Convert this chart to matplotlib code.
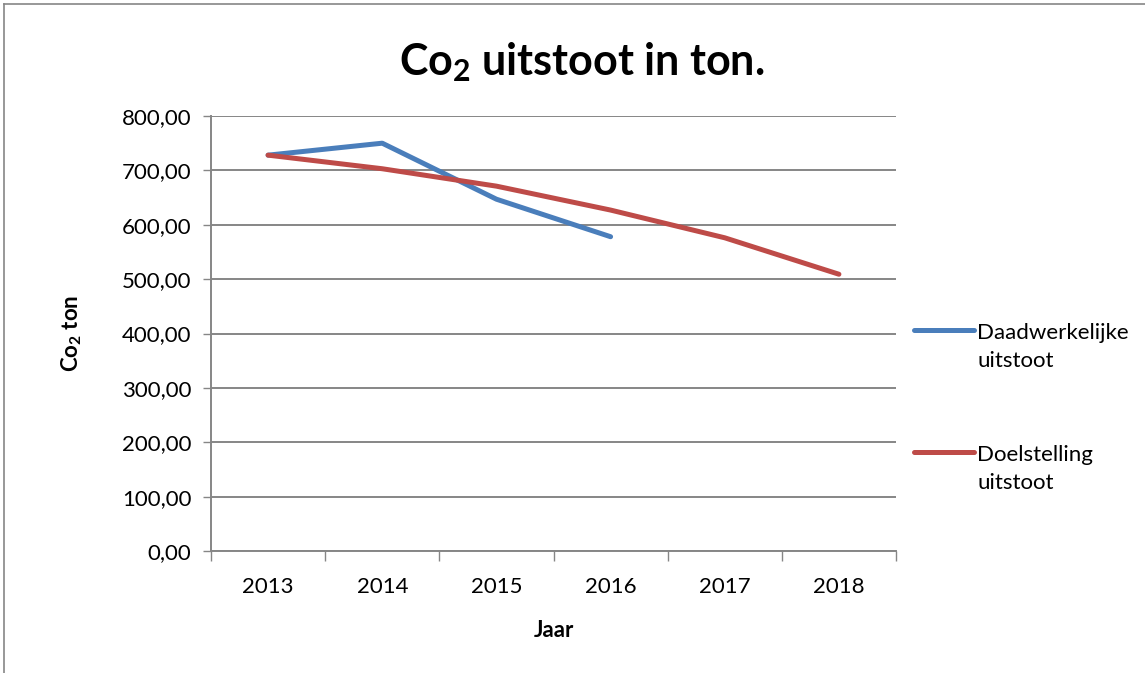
import matplotlib
matplotlib.use("Agg")
import matplotlib.pyplot as plt
from matplotlib.lines import Line2D
from matplotlib.ticker import FuncFormatter
from matplotlib.legend_handler import HandlerLine2D

plt.rcParams['font.family'] = ['Lato', 'DejaVu Sans']
plt.rcParams['mathtext.fontset'] = 'custom'
plt.rcParams['mathtext.rm'] = 'Lato'
plt.rcParams['mathtext.bf'] = 'Lato:bold'
plt.rcParams['mathtext.default'] = 'bf'

years = ["2013", "2014", "2015", "2016", "2017", "2018"]
actual = [728, 750, 647, 578]
target = [728, 703, 671, 627, 576, 509]
series_names = ["Daadwerkelijke\nuitstoot", "Doelstelling\nuitstoot"]
colors = ["#4A7EBB", "#BE4B48"]


class TopHandler(HandlerLine2D):
    def create_artists(self, legend, orig_handle, xdescent, ydescent, width, height, fontsize, trans):
        arts = super().create_artists(legend, orig_handle, xdescent, ydescent, width, height, fontsize, trans)
        for a in arts:
            a.set_ydata([y + 12.5 for y in a.get_ydata()])
        return arts


W, H = 1145, 673
fig = plt.figure(figsize=(W / 100, H / 100), dpi=100)
ax = fig.add_axes([211 / W, 1 - 551 / H, (896 - 211) / W, (551 - 116) / H])

x_act = list(range(len(actual)))
x_tar = list(range(len(target)))
l1, = ax.plot(x_act, actual, color=colors[0], lw=3.6, solid_capstyle='round', solid_joinstyle='round', zorder=3)
l2, = ax.plot(x_tar, target, color=colors[1], lw=3.6, solid_capstyle='round', solid_joinstyle='round', zorder=3)

ax.set_xlim(-0.5, len(years) - 0.5)
ax.set_ylim(0, 800)
ax.set_yticks(range(0, 801, 100))
ax.yaxis.set_major_formatter(FuncFormatter(lambda v, p: f"{v:.2f}".replace('.', ',')))
ax.set_xticks([i - 0.5 for i in range(len(years) + 1)])
ax.set_xticklabels([])
ax.set_xticks(range(len(years)), minor=True)
ax.set_xticklabels(years, minor=True)
ax.tick_params(axis='x', which='major', length=7, width=1, color='#868686', direction='out')
ax.tick_params(axis='x', which='minor', length=0, pad=19, labelsize=16)
ax.tick_params(axis='y', length=6, width=1, color='#868686', labelsize=16, pad=8)

ax.grid(axis='y', color='#868686', lw=1.4, zorder=0)
ax.set_axisbelow(True)
for s in ['top', 'right']:
    ax.spines[s].set_visible(False)
for s in ['left', 'bottom']:
    ax.spines[s].set_color('#868686')
    ax.spines[s].set_linewidth(1.4)

ax.set_xlabel("Jaar", fontsize=16, fontweight='bold', labelpad=16)
ax.set_ylabel("Co$_2$ ton", fontsize=16, fontweight='bold', labelpad=27)
fig.text(582 / W, 1 - 62 / H, "Co$_2$ uitstoot in ton.", fontsize=31, fontweight='bold',
         ha='center', va='center')

leg = fig.legend([l1, l2], series_names, loc='upper left', bbox_to_anchor=(905 / W, 1 - 314 / H),
                 frameon=False, fontsize=16, handlelength=2.7, handletextpad=0.15,
                 labelspacing=3.35, borderaxespad=0,
                 handler_map={Line2D: TopHandler()})
for t in leg.get_texts():
    t.set_linespacing(1.5)

# outer chart border (top and left visible)
fig.add_artist(Line2D([4 / W, 4 / W], [0, 1 - 4 / H], transform=fig.transFigure, color='#868686', lw=1.2))
fig.add_artist(Line2D([4 / W, 1], [1 - 4 / H, 1 - 4 / H], transform=fig.transFigure, color='#868686', lw=1.2))

fig.savefig("out.png", dpi=100)
